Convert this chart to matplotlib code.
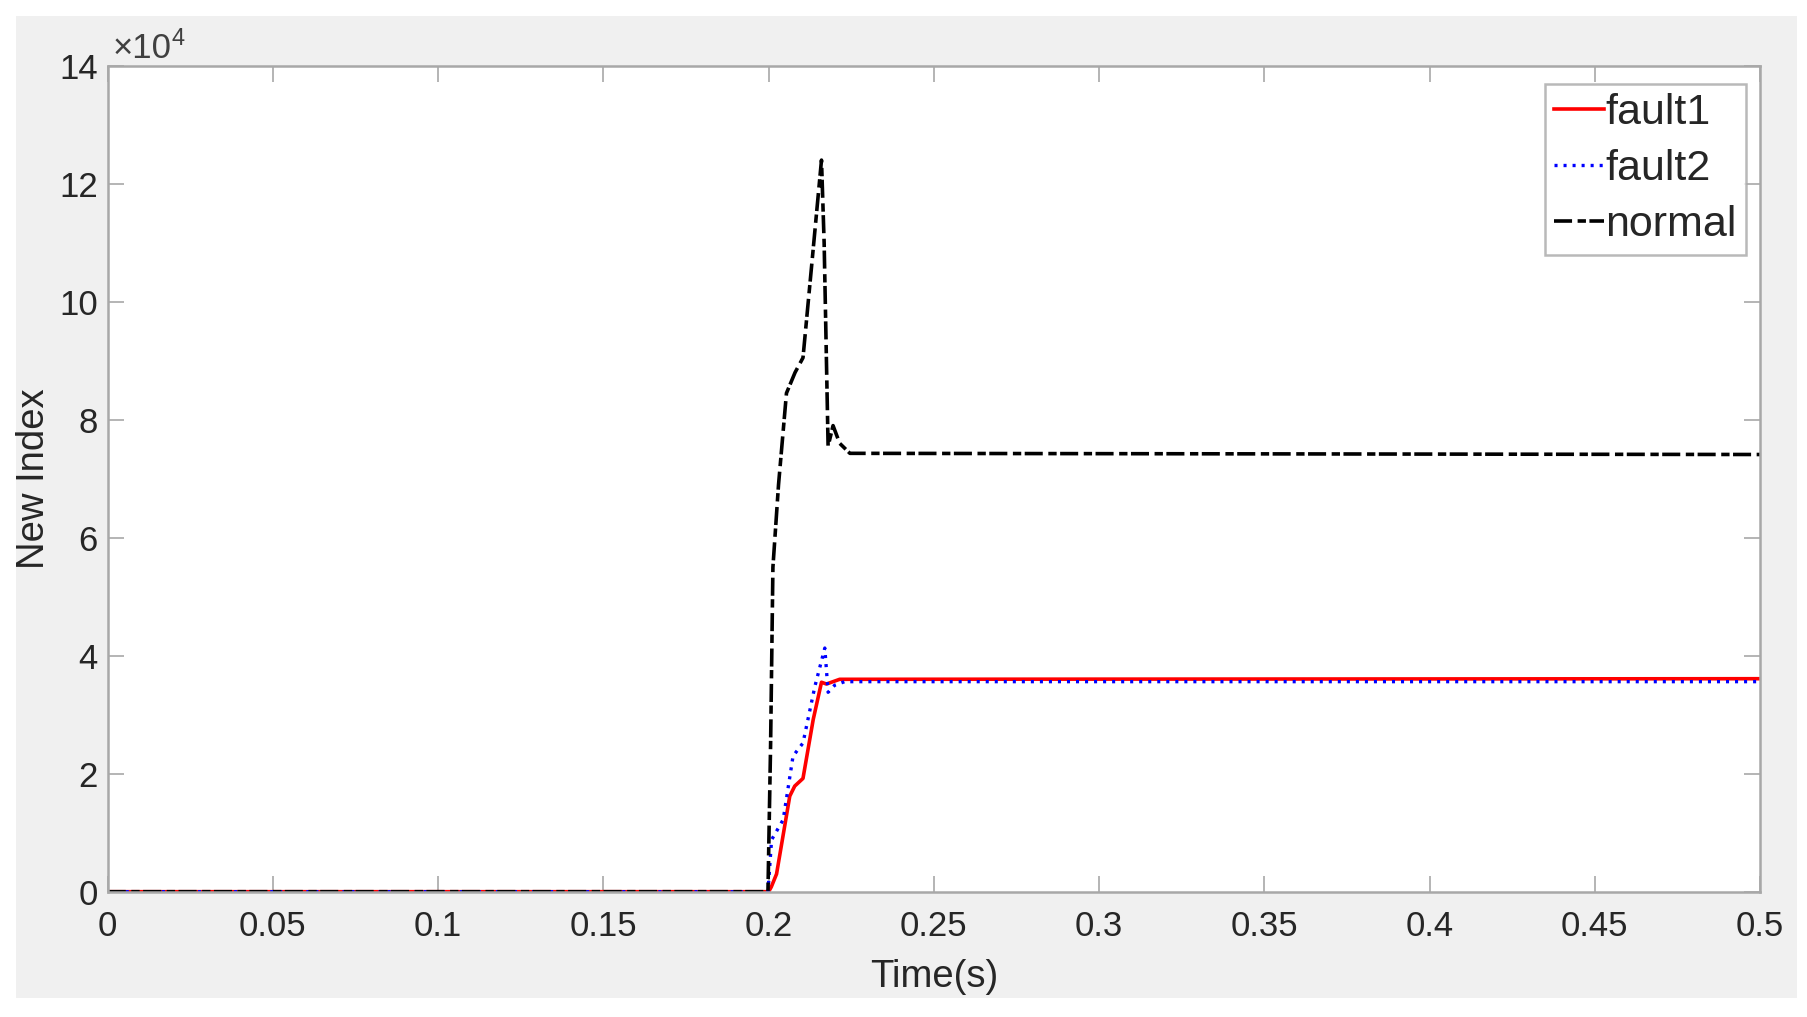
import numpy as np
import matplotlib.pyplot as plt
from matplotlib.patches import Rectangle
from matplotlib.ticker import FuncFormatter

plt.rcParams['font.family'] = ['Liberation Sans', 'DejaVu Sans']
plt.rcParams['lines.scale_dashes'] = False

# data (values in units of 1e4)
t_fault1 = [0, 0.2000, 0.2008, 0.2024, 0.2064, 0.2079, 0.2104, 0.2135, 0.2160, 0.2175, 0.2215, 0.5]
fault1 = [0, 0, 0.08, 0.30, 1.62, 1.79, 1.92, 2.92, 3.55, 3.52, 3.60, 3.61]

t_fault2 = [0, 0.1998, 0.2009, 0.2044, 0.2074, 0.2104, 0.2140, 0.2170, 0.2180, 0.2200, 0.2230, 0.5]
fault2 = [0, 0, 0.88, 1.22, 2.30, 2.52, 3.48, 4.13, 3.38, 3.50, 3.56, 3.56]

t_normal = [0, 0.1998, 0.2006, 0.2013, 0.2030, 0.2054, 0.2080, 0.2104, 0.2130, 0.2160,
            0.2168, 0.2180, 0.2195, 0.2215, 0.2246, 0.5]
normal = [0, 0, 2.5, 5.5, 6.9, 8.45, 8.8, 9.05, 10.6, 12.4, 11.0, 7.55, 7.9, 7.6, 7.43, 7.41]

scale = 1e4
xticks = [0, 0.05, 0.1, 0.15, 0.2, 0.25, 0.3, 0.35, 0.4, 0.45, 0.5]
yticks = [0, 2, 4, 6, 8, 10, 12, 14]

W, H = 1807, 1017
fig = plt.figure(figsize=(W / 100, H / 100), dpi=100, facecolor='white')
# grey MATLAB-like figure panel
fig.patches.append(Rectangle((16 / W, 1 - 998 / H), (1797 - 16) / W, (998 - 16) / H,
                             transform=fig.transFigure, facecolor='#f0f0f0',
                             edgecolor='none', zorder=-10))

ax = fig.add_axes([107.7 / W, 1 - 891.7 / H, (1760 - 107.7) / W, (891.7 - 65.7) / H])
ax.set_facecolor('white')

ax.plot(t_fault1, np.array(fault1) * scale, color='#ff0000', lw=2.6, label='fault1')
ax.plot(t_fault2, np.array(fault2) * scale, color='#0000ff', lw=2.4,
        dashes=(2.2, 4.3), label='fault2')
ax.plot(t_normal, np.array(normal) * scale, color='black', lw=2.6,
        dashes=(13, 4, 6, 2.5), label='normal')

ax.set_xlim(0, 0.5)
ax.set_ylim(0, 14 * scale)
ax.set_xticks(xticks)
ax.set_yticks([v * scale for v in yticks])
ax.xaxis.set_major_formatter(FuncFormatter(lambda v, p: f'{v:g}'))
ax.yaxis.set_major_formatter(FuncFormatter(lambda v, p: f'{v / scale:g}'))

ax.tick_params(direction='in', length=11.5, width=1.2, color='#a8a8a8',
               labelsize=25, labelcolor='#262626', top=True, right=True)
ax.tick_params(axis='x', pad=13)
ax.tick_params(axis='y', pad=7)
for s in ax.spines.values():
    s.set_color('#a8a8a8')
    s.set_linewidth(1.8)

# exponent label, MATLAB style
fig.text(113 / W, 1 - 58 / H, '×10', fontsize=25, color='#404040',
         ha='left', va='baseline')
fig.text(172 / W, 1 - 45 / H, '4', fontsize=17, color='#404040',
         ha='left', va='baseline')

ax.set_xlabel('Time(s)', fontsize=27.5, color='#262626', labelpad=12)
ax.set_ylabel('New Index', fontsize=27.5, color='#262626', labelpad=5)

leg = ax.legend(loc='upper right', bbox_to_anchor=(1746 / W, 1 - 84 / H),
                bbox_transform=fig.transFigure, fontsize=31, frameon=True,
                fancybox=False, handlelength=1.16, handletextpad=0.02,
                labelspacing=0.37, borderpad=0.22, borderaxespad=0)
leg.get_frame().set_edgecolor('#a8a8a8')
leg.get_frame().set_linewidth(1.8)
for txt in leg.get_texts():
    txt.set_color('#262626')

fig.savefig('out.png', dpi=100, facecolor=fig.get_facecolor())
